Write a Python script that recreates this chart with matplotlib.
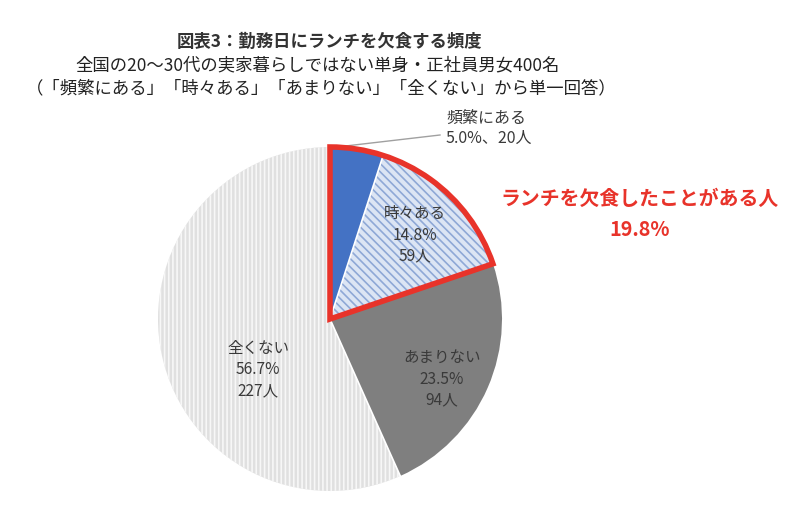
import matplotlib.pyplot as plt
from matplotlib.patches import Wedge
import numpy as np

plt.rcParams['font.family'] = ['Noto Sans CJK JP', 'DejaVu Sans']

labels = ['頻繁にある', '時々ある', 'あまりない', '全くない']
shares = [5.0, 14.8, 23.5, 56.7]
counts = [20, 59, 94, 227]
colors = ['#4472c4', '#dce5f4', '#7f7f7f', '#e0e0e0']
hatches = [None, '\\\\\\\\', None, '||||']
hatch_colors = ['#4472c4', '#8fa8d6', '#7f7f7f', '#f7f7f7']

title = '図表3：勤務日にランチを欠食する頻度'
subtitle1 = '全国の20～30代の実家暮らしではない単身・正社員男女400名'
subtitle2 = '（「頻繁にある」「時々ある」「あまりない」「全くない」から単一回答）'
callout = 'ランチを欠食したことがある人'
callout_share = sum(shares[:2])

W, H = 800, 510
cx, cy, r = 330, H - 320, 172

fig = plt.figure(figsize=(8, 5.1), dpi=100)
ax = fig.add_axes([0, 0, 1, 1])

plt.rcParams['hatch.linewidth'] = 1.2
wedges, _ = ax.pie(shares, colors=colors, startangle=90, counterclock=False,
                   center=(cx, cy), radius=r, frame=True)
for w, h, hc in zip(wedges, hatches, hatch_colors):
    w.set_edgecolor(hc)
    w.set_linewidth(0)
    if h:
        w.set_hatch(h)
ax.set_xlim(0, W)
ax.set_ylim(0, H)
ax.set_aspect('equal')
ax.axis('off')

# thin white separators
ang = 90
for s in shares:
    a = np.deg2rad(ang)
    ax.plot([cx, cx + r * np.cos(a)], [cy, cy + r * np.sin(a)], color='white', lw=1.2)
    ang -= s * 3.6

# red outline around the "ever skipped" slices
ax.add_patch(Wedge((cx, cy), r, 90 - callout_share * 3.6, 90, fill=False,
                   edgecolor='#e8332a', lw=4, joinstyle='miter', zorder=5))

tc = '#3a3a3a'
fig.text(330 / W, 1 - 42 / H, title, ha='center', va='center', fontsize=12.5,
         fontweight='bold', color='#333333')
fig.text(318 / W, 1 - 65 / H, subtitle1, ha='center', va='center', fontsize=12.5, color='#222222')
fig.text(321 / W, 1 - 88 / H, subtitle2, ha='center', va='center', fontsize=12.5, color='#222222')

# leader label for the smallest slice
a = np.deg2rad(88)
ax.plot([cx + r * np.cos(a), 440], [cy + r * np.sin(a), H - 136], color='#a0a0a0', lw=1)
ax.text(446, H - 118, labels[0], ha='left', va='center', fontsize=11.5, color=tc)
ax.text(446, H - 138, f'{shares[0]:.1f}%、{counts[0]}人', ha='left', va='center',
        fontsize=11.5, color=tc)

inner = [(None, None), (415, 235), (442, 379), (258, 370)]
for i in range(1, 4):
    x, y = inner[i]
    ax.text(x, H - y, f'{labels[i]}\n{shares[i]:.1f}%\n{counts[i]}人', ha='center',
            va='center', fontsize=11.2, color=tc, linespacing=1.32)

ax.text(640, H - 198, callout, ha='center', va='center', fontsize=14.3,
        fontweight='bold', color='#e8332a')
ax.text(640, H - 230, f'{callout_share:.1f}%', ha='center', va='center', fontsize=14.3,
        fontweight='bold', color='#e8332a')

fig.savefig('out.png', dpi=100)
